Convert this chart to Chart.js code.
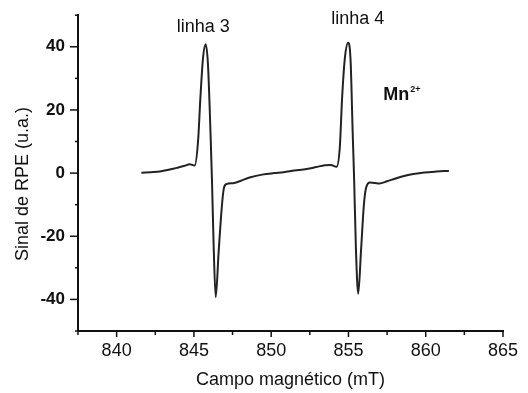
<!DOCTYPE html>
<html>
<head>
<meta charset="utf-8">
<script src="https://cdn.jsdelivr.net/npm/chart.js@4/dist/chart.umd.min.js"></script>
<style>
  html, body { margin: 0; padding: 0; background: #fff; }
  #wrap { width: 528px; height: 393px; }
</style>
</head>
<body>
<div id="wrap"><canvas id="chart" width="528" height="393"></canvas></div>
<script>
// campo magnetico (mT) and RPE signal
const fieldMT = [
    841.6, 842.2, 842.8, 843.5, 844.0, 844.4, 844.73, 845.05, 845.27, 845.42,
    845.59, 845.76, 845.91, 846.07, 846.17, 846.28, 846.41, 846.6, 846.8, 846.93,
    847.1, 847.53, 848.0, 848.6, 849.5, 850.2, 850.8, 851.5, 852.3, 852.9,
    853.47, 853.85, 854.23, 854.44, 854.59, 854.77, 854.98, 855.14, 855.27, 855.37,
    855.48, 855.63, 855.82, 856.0, 856.15, 856.4, 856.7, 857.0, 857.5, 858.0,
    858.6, 859.2, 859.9, 860.7, 861.5
];
const signal = [
    0.1, 0.3, 0.5, 1.2, 1.8, 2.3, 2.8, 2.4, 10.2, 23.9,
    36.5, 40.8, 34.4, 13.4, -2.4, -23.5, -39.3, -25.0, -11.0, -5.0,
    -3.5, -3.2, -2.5, -1.4, -0.4, 0.0, 0.3, 0.8, 1.3, 1.9,
    2.5, 2.6, 2.0, 8.1, 23.9, 36.5, 41.3, 35.5, 13.4, -2.4,
    -23.5, -38.2, -24.0, -10.0, -4.5, -3.0, -3.1, -3.3, -2.6, -1.8,
    -0.9, -0.3, 0.2, 0.5, 0.7
];
const xLabels = [840, 845, 850, 855, 860, 865];
const yLabels = [-40, -20, 0, 20, 40];
const lineLabels = [
    { text: "linha 3", x: 845.6, y: 44.6 },
    { text: "linha 4", x: 855.6, y: 47.2 }
];

const FONT = "'Liberation Sans', Arial, sans-serif";

// tick marks (major/minor), y title and the text notes
const extras = {
    id: "extras",
    afterDraw(chart) {
        const { ctx, chartArea } = chart;
        const xs = chart.scales.x;
        const ys = chart.scales.y;
        ctx.save();
        ctx.strokeStyle = "#111";
        ctx.lineWidth = 1.5;
        xs.ticks.forEach((t) => {
            const px = xs.getPixelForValue(t.value);
            const len = xLabels.includes(t.value) ? 6 : 4;
            ctx.beginPath();
            ctx.moveTo(px, chartArea.bottom);
            ctx.lineTo(px, chartArea.bottom + len);
            ctx.stroke();
        });
        ys.ticks.forEach((t) => {
            const py = ys.getPixelForValue(t.value);
            const len = yLabels.includes(t.value) ? 8 : 3;
            ctx.beginPath();
            ctx.moveTo(chartArea.left, py);
            ctx.lineTo(chartArea.left - len, py);
            ctx.stroke();
        });

        ctx.fillStyle = "#111";
        // y axis title
        ctx.save();
        ctx.translate(23, 184);
        ctx.rotate(-Math.PI / 2);
        ctx.font = "18px " + FONT;
        ctx.textAlign = "center";
        ctx.textBaseline = "middle";
        ctx.fillText("Sinal de RPE (u.a.)", 0, 0);
        ctx.restore();

        ctx.font = "18px " + FONT;
        ctx.textAlign = "center";
        ctx.textBaseline = "alphabetic";
        lineLabels.forEach((l) => {
            ctx.fillText(l.text, xs.getPixelForValue(l.x), ys.getPixelForValue(l.y));
        });

        // Mn2+
        const mx = xs.getPixelForValue(857.25);
        const my = ys.getPixelForValue(23.3);
        ctx.textAlign = "left";
        ctx.font = "bold 18px " + FONT;
        ctx.fillText("Mn", mx, my);
        const w = ctx.measureText("Mn").width;
        ctx.font = "bold 9px " + FONT;
        ctx.fillText("2+", mx + w + 1, my - 8);
        ctx.restore();
    }
};

new Chart(document.getElementById("chart"), {
    type: "line",
    data: {
        datasets: [
            {
                data: fieldMT.map((x, i) => ({ x: x, y: signal[i] })),
                borderColor: "#222",
                borderWidth: 2,
                pointRadius: 0,
                cubicInterpolationMode: "monotone",
                fill: false,
            },
        ],
    },
    options: {
        responsive: false,
        animation: false,
        layout: { padding: { left: 0, top: 14, right: 25, bottom: 0 } },
        scales: {
            x: {
                type: "linear",
                min: 837.5,
                max: 865,
                afterFit: (scale) => { scale.height = 62; },
                border: { display: true, color: "#111", width: 2 },
                grid: { display: false, drawTicks: true, tickLength: 6 },
                ticks: {
                    stepSize: 2.5,
                    autoSkip: false,
                    maxRotation: 0,
                    padding: 3,
                    color: "#111",
                    font: { family: FONT, size: 18 },
                    callback: (v) => (xLabels.includes(v) ? String(v) : ""),
                },
                title: {
                    display: true,
                    text: "Campo magnético (mT)",
                    color: "#111",
                    font: { family: FONT, size: 18 },
                    padding: { top: 0, bottom: 2 },
                },
            },
            y: {
                min: -50,
                max: 50,
                afterFit: (scale) => { scale.width = 78; },
                border: { display: true, color: "#111", width: 2 },
                grid: { display: false, drawTicks: true, tickLength: 8 },
                ticks: {
                    stepSize: 10,
                    autoSkip: false,
                    padding: 5,
                    color: "#111",
                    font: { family: FONT, size: 17, weight: "bold" },
                    callback: (v) => (yLabels.includes(v) ? String(v) : ""),
                },
            },
        },
        plugins: {
            legend: { display: false },
            tooltip: { enabled: false },
        },
    },
    plugins: [extras],
});
</script>
</body>
</html>
